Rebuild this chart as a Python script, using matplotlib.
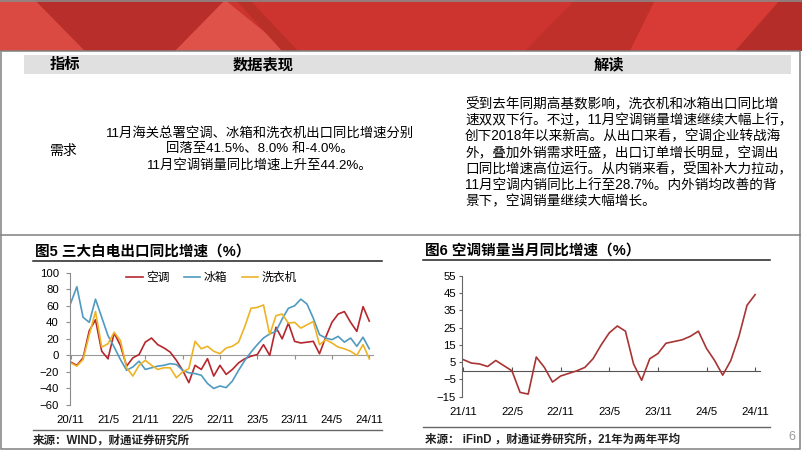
import matplotlib
matplotlib.use("Agg")
import numpy as np
import matplotlib.pyplot as plt
from matplotlib.patches import Polygon, Rectangle

plt.rcParams['font.family'] = ['Liberation Sans', 'Noto Sans CJK SC', 'DejaVu Sans']

# ---------------- data ----------------
# fig 5: monthly export yoy, 2020/11 .. 2024/11
export_ticks = ["20/11", "21/5", "21/11", "22/5", "22/11", "23/5", "23/11", "24/5", "24/11"]
ac_export = [-8, -12, -3, 30, 43, 5, -4, 27, 12, -13, -3, 1, 16, 21, 13, 9, 4, -6, -18, -33,
             -12, -17, -4, -25, -12, -23, -17, -9, -4, -1, 1, 13, 0, 34, 20, 39, 17, 15, 16, 17,
             2, 22, 40, 50, 53, 40, 29, 59, 41.5]
fridge_export = [63, 83, 46, 40, 68, 46, 24, 10, -5, -18, -14, -7, -17, -15, -13, -12, -10, -11,
                 -18, -21, -22, -24, -34, -40, -37, -39, -31, -18, -6, 4, 13, 21, 26, 29, 44, 57,
                 60, 68, 62, 45, 25, 21, 19, 23, 16, 21, 11, 22, 8]
washer_export = [-9, -13, -5, 25, 53, 10, 14, 28, 18, -15, -25, -12, -6, -12, -17, -15, -15, -27,
                 -20, -16, 17, 8, 11, 5, 2, 9, 11, 16, 35, 57, 58, 61, 25, 48, 50, 39, 40, 33, 37,
                 41, 13, 19, 15, 10, 8, 5, 0, 13, -4]
export_names = ["空调", "冰箱", "洗衣机"]

# fig 6: monthly AC sales yoy, 2021/11 .. 2024/11
sales_ticks = ["21/11", "22/5", "22/11", "23/5", "23/11", "24/5", "24/11"]
ac_sales = [6.5, 4.5, 4, 2.5, 6, 3, 0, -12.5, -13.5, 8, 2, -6.5, -3, -1.5, 0, 2, 7, 15, 22, 26,
            23, 4, -5.5, 7, 10, 16, 17, 18, 20, 23, 13, 6, -2.5, 6, 20, 38, 44.2]

headers = ["指标", "数据表现", "解读"]
row_name = "需求"
mid_lines = ["11月海关总署空调、冰箱和洗衣机出口同比增速分别",
             "回落至41.5%、8.0% 和-4.0%。",
             "11月空调销量同比增速上升至44.2%。"]
right_lines = ["受到去年同期高基数影响，洗衣机和冰箱出口同比增",
               "速双双下行。不过，11月空调销量增速继续大幅上行，",
               "创下2018年以来新高。从出口来看，空调企业转战海",
               "外，叠加外销需求旺盛，出口订单增长明显，空调出",
               "口同比增速高位运行。从内销来看，受国补大力拉动，",
               "11月空调内销同比上行至28.7%。内外销均改善的背",
               "景下，空调销量继续大幅增长。"]

RED = "#B5272D"
BLUE = "#4F9AC0"
GOLD = "#EEB325"
SALES = "#A83434"

fig = plt.figure(figsize=(8.02, 4.51), dpi=100)

# background layer in pixel coords (y down)
bg = fig.add_axes([0, 0, 1, 1])
bg.set_xlim(0, 802); bg.set_ylim(451, 0); bg.axis("off")

# red banner
bg.add_patch(Rectangle((0, 0), 802, 51, color="#CE342F", lw=0))
for pts, col in [
    ([(0, 0), (35, 0), (85, 51), (0, 51)], "#DA4A43"),
    ([(35, 0), (225, 0), (175, 51), (85, 51)], "#B82E2A"),
    ([(175, 51), (225, 0), (288, 51)], "#DE524A"),
    ([(236, 0), (250, 0), (298, 51), (282, 51)], "#B93029"),
    ([(575, 0), (655, 0), (630, 51), (525, 51)], "#BF302B"),
    ([(655, 0), (780, 0), (740, 51), (630, 51)], "#D83B35"),
    ([(780, 0), (802, 0), (802, 51), (735, 51)], "#B52D29"),
]:
    bg.add_patch(Polygon(pts, closed=True, color=col, lw=0))
bg.plot([0, 802], [0.8, 0.8], color="#8a8a8a", lw=1.2)

# frame
bg.add_patch(Rectangle((1, 51), 799, 398, fill=False, ec="#808080", lw=1.1))
bg.plot([1, 800], [235, 235], color="#808080", lw=1.1)

# table
bg.add_patch(Rectangle((24, 55), 767, 19, color="#E0E0E0", lw=0))
for hx, h in zip([65, 263, 609], headers):
    bg.text(hx, 65, h, ha="center", va="center", fontsize=11, fontweight="bold")
bg.text(63, 151, row_name, ha="center", va="center", fontsize=10)
for i, ln in enumerate(mid_lines):
    bg.text(260, 133 + 16 * i, ln, ha="center", va="center", fontsize=9.6)
for i, ln in enumerate(right_lines):
    bg.text(465, 104 + 16.3 * i, ln, ha="left", va="center", fontsize=9.8)

# chart titles, rules, sources
bg.text(35, 252, "图5 三大白电出口同比增速（%）", fontsize=10.5, fontweight="bold", va="center")
bg.text(425, 251, "图6 空调销量当月同比增速（%）", fontsize=10.5, fontweight="bold", va="center")
bg.plot([33, 382], [260.5, 260.5], color="#222222", lw=1.1)
bg.plot([423, 770], [259.5, 259.5], color="#222222", lw=1.1)
bg.plot([33, 382], [430, 430], color="#666666", lw=1.0)
bg.plot([423, 770], [427, 427], color="#666666", lw=1.0)
bg.text(33, 441, "来源：WIND，财通证券研究所", fontsize=8.3, fontweight="bold", va="center",
        color="#222222")
bg.text(425, 440, "来源： iFinD ，财通证券研究所，21年为两年平均", fontsize=8.3,
        fontweight="bold", va="center", color="#222222")
bg.text(792, 437, "6", fontsize=9, color="#9a9a9a", ha="center", va="center")

# ---------------- fig 5 ----------------
ax1 = fig.add_axes([70 / 802, 1 - 405 / 451, 303 / 802, 132.3 / 451])
x1 = np.arange(len(ac_export))
for vals, col, name in zip([ac_export, fridge_export, washer_export], [RED, BLUE, GOLD], export_names):
    ax1.plot(x1, vals, color=col, lw=1.2, label=name)
ax1.set_ylim(-60, 100)
ax1.set_yticks(range(-60, 101, 20))
ax1.set_xlim(-0.1, 48.6)
ax1.set_xticks(x1[::6])
ax1.set_xticklabels(export_ticks)
ax1.tick_params(axis="x", length=0, pad=7, labelsize=8.2)
ax1.tick_params(axis="y", length=3, color="#8c8c8c", labelsize=8.2, pad=5)
for s in ["top", "right", "bottom"]:
    ax1.spines[s].set_visible(False)
ax1.spines["left"].set_color("#8c8c8c")
ax1.patch.set_alpha(0)
sec1 = ax1.secondary_xaxis(60 / 160)
sec1.set_xticks(x1[::6])
sec1.set_xticklabels([])
sec1.tick_params(length=3, color="#8c8c8c", direction="out")
for s in sec1.spines.values():
    s.set_color("#9a9a9a")
leg = ax1.legend(ncol=3, loc="center", bbox_to_anchor=(0.467, 0.962), frameon=False,
                 fontsize=8.5, handlelength=1.4, handletextpad=0.3, columnspacing=1.2)

# ---------------- fig 6 ----------------
ax2 = fig.add_axes([461.7 / 802, 1 - 396.7 / 451, 298.3 / 802, 120.7 / 451])
x2 = np.arange(len(ac_sales))
ax2.plot(x2, ac_sales, color=SALES, lw=1.2)
ax2.set_ylim(-15, 55)
ax2.set_yticks(range(-15, 56, 10))
ax2.set_xlim(-0.2, 36.6)
ax2.set_xticks(x2[::6])
ax2.set_xticklabels(sales_ticks)
ax2.tick_params(axis="x", length=0, pad=7.5, labelsize=8.2)
ax2.tick_params(axis="y", length=2, color="#666666", labelsize=8.2, pad=2)
for s in ["top", "right", "bottom"]:
    ax2.spines[s].set_visible(False)
ax2.spines["left"].set_color("#666666")
ax2.patch.set_alpha(0)
sec2 = ax2.secondary_xaxis(15 / 70)
sec2.set_xticks(x2[::6])
sec2.set_xticklabels([])
sec2.tick_params(length=3, color="#555555", direction="in")
for s in sec2.spines.values():
    s.set_color("#555555")

fig.savefig("out.png", dpi=100)
